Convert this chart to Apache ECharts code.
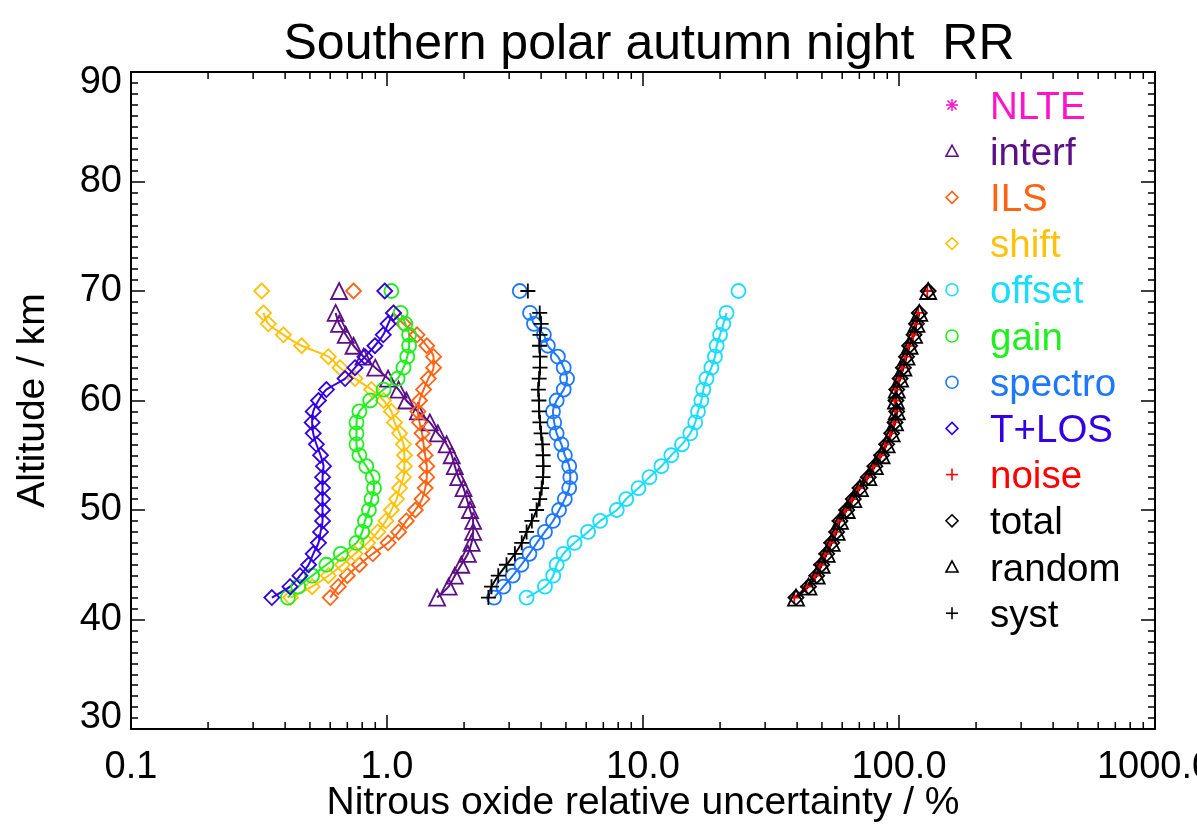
<!DOCTYPE html>
<html>
<head>
<meta charset="utf-8">
<script src="https://cdn.jsdelivr.net/npm/echarts@6/dist/echarts.min.js"></script>
<style>
  html, body { margin: 0; padding: 0; background: #fff; }
  #chart { width: 1197px; height: 828px; }
</style>
</head>
<body>
<div id="chart"></div>
<script>
// Altitude levels (km); 69 km is not retrieved, so 70 km stands alone
const altitudes = [42, 43, 44, 45, 46, 47, 48, 49, 50, 51, 52, 53, 54, 55,
                   56, 57, 58, 59, 60, 61, 62, 63, 64, 65, 66, 67, 68, 70];

// Relative uncertainty (%) per altitude, one list per error source
const nlte   = [];
const interf = [1.57, 1.74, 1.84, 1.95, 2.07, 2.14, 2.17, 2.17, 2.11, 2.05, 1.99, 1.90, 1.84, 1.79,
                1.71, 1.58, 1.47, 1.32, 1.19, 1.11, 1.01, 0.90, 0.81, 0.74, 0.69, 0.65, 0.63, 0.65];
const ils    = [0.60, 0.645, 0.70, 0.78, 0.88, 1.01, 1.11, 1.19, 1.29, 1.37, 1.41, 1.43, 1.43, 1.41,
                1.39, 1.37, 1.34, 1.32, 1.34, 1.39, 1.45, 1.52, 1.52, 1.43, 1.31, 1.16, 1.06, 0.74];
const shift  = [0.42, 0.51, 0.59, 0.67, 0.75, 0.84, 0.92, 0.99, 1.04, 1.09, 1.12, 1.16, 1.17, 1.17,
                1.16, 1.12, 1.07, 1.04, 0.97, 0.87, 0.75, 0.655, 0.59, 0.464, 0.394, 0.344, 0.329, 0.324];
const offset = [3.51, 4.14, 4.46, 4.60, 4.89, 5.4, 6.1, 6.8, 7.9, 8.6, 9.6, 10.6, 11.8, 12.9,
                14.2, 15.3, 16.0, 16.4, 16.9, 17.2, 17.7, 18.5, 19.1, 19.4, 20.0, 20.6, 21.2, 23.6];
const gain   = [0.41, 0.45, 0.51, 0.58, 0.66, 0.76, 0.80, 0.82, 0.85, 0.87, 0.89, 0.88, 0.83, 0.78,
                0.76, 0.76, 0.76, 0.78, 0.86, 0.97, 1.10, 1.16, 1.20, 1.22, 1.22, 1.18, 1.13, 1.04];
const spectro = [2.62, 2.85, 3.10, 3.35, 3.60, 3.85, 4.14, 4.45, 4.70, 4.95, 5.15, 5.20, 5.15, 4.95,
                 4.80, 4.60, 4.50, 4.45, 4.60, 4.90, 5.05, 4.90, 4.65, 4.25, 4.10, 3.75, 3.62, 3.30];
const tlos   = [0.355, 0.418, 0.457, 0.494, 0.515, 0.54, 0.55, 0.56, 0.56, 0.56, 0.56, 0.56, 0.565, 0.55,
                0.53, 0.515, 0.51, 0.515, 0.54, 0.58, 0.686, 0.75, 0.82, 0.897, 0.967, 1.01, 1.06, 0.98];
const noise  = [39.0, 43.5, 47.0, 49.0, 51.3, 53.7, 56.2, 57.9, 61.5, 65.3, 69.4, 74.8, 79.4, 84.4,
                88.4, 92.5, 95.4, 96.9, 96.2, 96.9, 99.9, 102.9, 105.9, 108.9, 113.4, 115.9, 118.9, 129.0];
const total  = [39.6, 44.3, 47.7, 49.9, 52.2, 54.6, 57.1, 58.8, 62.5, 66.3, 70.4, 75.9, 80.5, 85.5,
                89.5, 93.6, 96.5, 98.0, 97.3, 98.0, 101.0, 104.0, 107.0, 110.0, 114.5, 117.0, 120.0, 130.0];
const random = [39.6, 44.3, 47.7, 49.9, 52.2, 54.6, 57.1, 58.8, 62.5, 66.3, 70.4, 75.9, 80.5, 85.5,
                89.5, 93.6, 96.5, 98.0, 97.3, 98.0, 101.0, 104.0, 107.0, 110.0, 114.5, 117.0, 120.0, 130.0];
const syst   = [2.49, 2.56, 2.72, 2.93, 3.16, 3.36, 3.51, 3.68, 3.84, 3.95, 4.02, 4.07, 4.08, 4.07,
                4.05, 4.00, 3.96, 3.93, 3.92, 3.90, 3.93, 3.96, 3.96, 3.94, 3.96, 4.00, 3.95, 3.55];

// Axis tick values
const xMajorTicks = [0.1, 1, 10, 100, 1000];
const xMinorTicks = [0.2, 0.3, 0.4, 0.5, 0.6, 0.7, 0.8, 0.9,
                     2, 3, 4, 5, 6, 7, 8, 9,
                     20, 30, 40, 50, 60, 70, 80, 90,
                     200, 300, 400, 500, 600, 700, 800, 900];
const yTicks = [30, 40, 50, 60, 70, 80, 90];

const FONT = "'Liberation Sans', Arial, Helvetica, sans-serif";

const PLUS = 'path://M0,5 L10,5 M5,0 L5,10';
const STAR = 'path://M5,0 L5,10 M0,5 L10,5 M1.5,1.5 L8.5,8.5 M1.5,8.5 L8.5,1.5';

// name, values, colour, marker, marker size
const sources = [
  { name: 'NLTE',    values: nlte,    color: '#FF14C8', symbol: STAR,       size: 14 },
  { name: 'interf',  values: interf,  color: '#5C0F86', symbol: 'triangle', size: 16 },
  { name: 'ILS',     values: ils,     color: '#FF6414', symbol: 'diamond',  size: 15 },
  { name: 'shift',   values: shift,   color: '#FFC20A', symbol: 'diamond',  size: 15 },
  { name: 'offset',  values: offset,  color: '#1ADCFF', symbol: 'circle',   size: 14 },
  { name: 'gain',    values: gain,    color: '#1EF01E', symbol: 'circle',   size: 14 },
  { name: 'spectro', values: spectro, color: '#1E78FF', symbol: 'circle',   size: 14 },
  { name: 'T+LOS',   values: tlos,    color: '#3200E6', symbol: 'diamond',  size: 15 },
  { name: 'noise',   values: noise,   color: '#FF0000', symbol: PLUS,       size: 13 },
  { name: 'total',   values: total,   color: '#000000', symbol: 'diamond',  size: 15 },
  { name: 'random',  values: random,  color: '#000000', symbol: 'triangle', size: 16 },
  { name: 'syst',    values: syst,    color: '#000000', symbol: PLUS,       size: 15 }
];

// Pair each value with its altitude; break the line before the isolated 70 km level
function profile(values) {
  const out = [];
  for (let i = 0; i < values.length; i++) {
    if (i > 0 && altitudes[i] - altitudes[i - 1] > 1) out.push(['-', '-']);
    out.push([values[i], altitudes[i]]);
  }
  return out;
}

const series = sources.map(s => ({
  name: s.name,
  type: 'line',
  data: profile(s.values),
  symbol: s.symbol,
  symbolSize: s.size,
  showAllSymbol: true,
  smooth: 0.25,
  connectNulls: false,
  silent: true,
  lineStyle: { color: s.color, width: 2 },
  itemStyle: { color: 'rgba(0,0,0,0)', borderColor: s.color, borderWidth: 1.8 },
  emphasis: { disabled: true }
}));

// Minor ticks of the logarithmic axis, at 2..9 of each decade, on bottom and top
series.push({
  type: 'custom',
  silent: true,
  clip: false,
  data: xMinorTicks.map(v => [v, 30]),
  encode: { x: 0, y: 1 },
  renderItem: function (params, api) {
    const v = api.value(0);
    const b = api.coord([v, 30]);
    const t = api.coord([v, 90]);
    const st = { stroke: '#000', lineWidth: 1.5 };
    return {
      type: 'group',
      children: [
        { type: 'line', shape: { x1: b[0], y1: b[1], x2: b[0], y2: b[1] - 7 }, style: st },
        { type: 'line', shape: { x1: t[0], y1: t[1], x2: t[0], y2: t[1] + 7 }, style: st }
      ]
    };
  }
});

// Legend drawn as graphic rows: marker then coloured label
function legendIcon(s, cx, cy) {
  const st = { fill: 'none', stroke: s.color, lineWidth: 1.6 };
  const r = 6;
  if (s.symbol === 'circle') return { type: 'circle', shape: { cx, cy, r }, style: st };
  if (s.symbol === 'diamond') return { type: 'polygon', shape: { points: [[cx, cy - r], [cx + r, cy], [cx, cy + r], [cx - r, cy]] }, style: st };
  if (s.symbol === 'triangle') return { type: 'polygon', shape: { points: [[cx, cy - r], [cx + r, cy + r - 1], [cx - r, cy + r - 1]] }, style: st };
  if (s.symbol === PLUS) return { type: 'group', children: [
    { type: 'line', shape: { x1: cx - r, y1: cy, x2: cx + r, y2: cy }, style: st },
    { type: 'line', shape: { x1: cx, y1: cy - r, x2: cx, y2: cy + r }, style: st } ] };
  return { type: 'group', children: [
    { type: 'line', shape: { x1: cx - r, y1: cy, x2: cx + r, y2: cy }, style: st },
    { type: 'line', shape: { x1: cx, y1: cy - r, x2: cx, y2: cy + r }, style: st },
    { type: 'line', shape: { x1: cx - 4.5, y1: cy - 4.5, x2: cx + 4.5, y2: cy + 4.5 }, style: st },
    { type: 'line', shape: { x1: cx - 4.5, y1: cy + 4.5, x2: cx + 4.5, y2: cy - 4.5 }, style: st } ] };
}

const legendGraphics = [];
sources.forEach((s, i) => {
  const cy = 105 + i * 46.2;
  legendGraphics.push(legendIcon(s, 952, cy));
  legendGraphics.push({
    type: 'text', x: 990, y: cy + 3,
    style: { text: s.name, fill: s.color, font: '38.5px ' + FONT, textVerticalAlign: 'middle', textAlign: 'left' }
  });
});

const axisLine = { show: true, onZero: false, lineStyle: { color: '#000', width: 2 } };
const tickStyle = { color: '#000', width: 1.5 };

const option = {
  animation: false,
  backgroundColor: '#fff',
  title: {
    text: 'Southern polar autumn night  RR',
    left: 644, top: 15, textAlign: 'center',
    textStyle: { fontFamily: FONT, fontSize: 50, fontWeight: 'normal', color: '#000' }
  },
  grid: { left: 131, right: 42, top: 72, bottom: 99, containLabel: false, outerBoundsMode: 'none' },
  xAxis: [
    {
      type: 'log', logBase: 10, min: xMajorTicks[0], max: xMajorTicks[xMajorTicks.length - 1],
      position: 'bottom',
      axisLine: axisLine,
      axisTick: { show: true, inside: true, length: 14, lineStyle: tickStyle },
      axisLabel: {
        margin: 20, fontSize: 38, fontFamily: FONT, color: '#000',
        formatter: v => Number(v).toFixed(1)
      },
      splitLine: { show: false },
      name: 'Nitrous oxide relative uncertainty / %',
      nameLocation: 'middle', nameGap: 61, nameMoveOverlap: false,
      nameTextStyle: { fontSize: 39, lineHeight: 26, fontFamily: FONT, color: '#000' }
    },
    {
      type: 'log', logBase: 10, min: xMajorTicks[0], max: xMajorTicks[xMajorTicks.length - 1],
      position: 'top',
      axisLine: axisLine,
      axisTick: { show: true, inside: true, length: 14, lineStyle: tickStyle },
      axisLabel: { show: false },
      splitLine: { show: false }
    }
  ],
  yAxis: [
    {
      type: 'value', min: yTicks[0], max: yTicks[yTicks.length - 1], interval: 10,
      position: 'left',
      axisLine: axisLine,
      axisTick: { show: true, inside: true, length: 14, lineStyle: tickStyle },
      minorTick: { show: true, splitNumber: 10, length: 7, lineStyle: tickStyle },
      axisLabel: {
        margin: 9, fontSize: 38, lineHeight: 22, fontFamily: FONT, color: '#000',
        verticalAlignMinLabel: 'bottom', verticalAlignMaxLabel: 'top'
      },
      splitLine: { show: false },
      name: 'Altitude / km',
      nameLocation: 'middle', nameGap: 78, nameRotate: 90, nameMoveOverlap: false,
      nameTextStyle: { fontSize: 39, fontFamily: FONT, color: '#000' }
    },
    {
      type: 'value', min: yTicks[0], max: yTicks[yTicks.length - 1], interval: 10,
      position: 'right',
      axisLine: axisLine,
      axisTick: { show: true, inside: true, length: 14, lineStyle: tickStyle },
      minorTick: { show: true, splitNumber: 10, length: 7, lineStyle: tickStyle },
      axisLabel: { show: false },
      splitLine: { show: false }
    }
  ],
  graphic: legendGraphics,
  series: series
};

const chart = echarts.init(document.getElementById('chart'), null, { renderer: 'canvas' });
chart.setOption(option);
</script>
</body>
</html>
